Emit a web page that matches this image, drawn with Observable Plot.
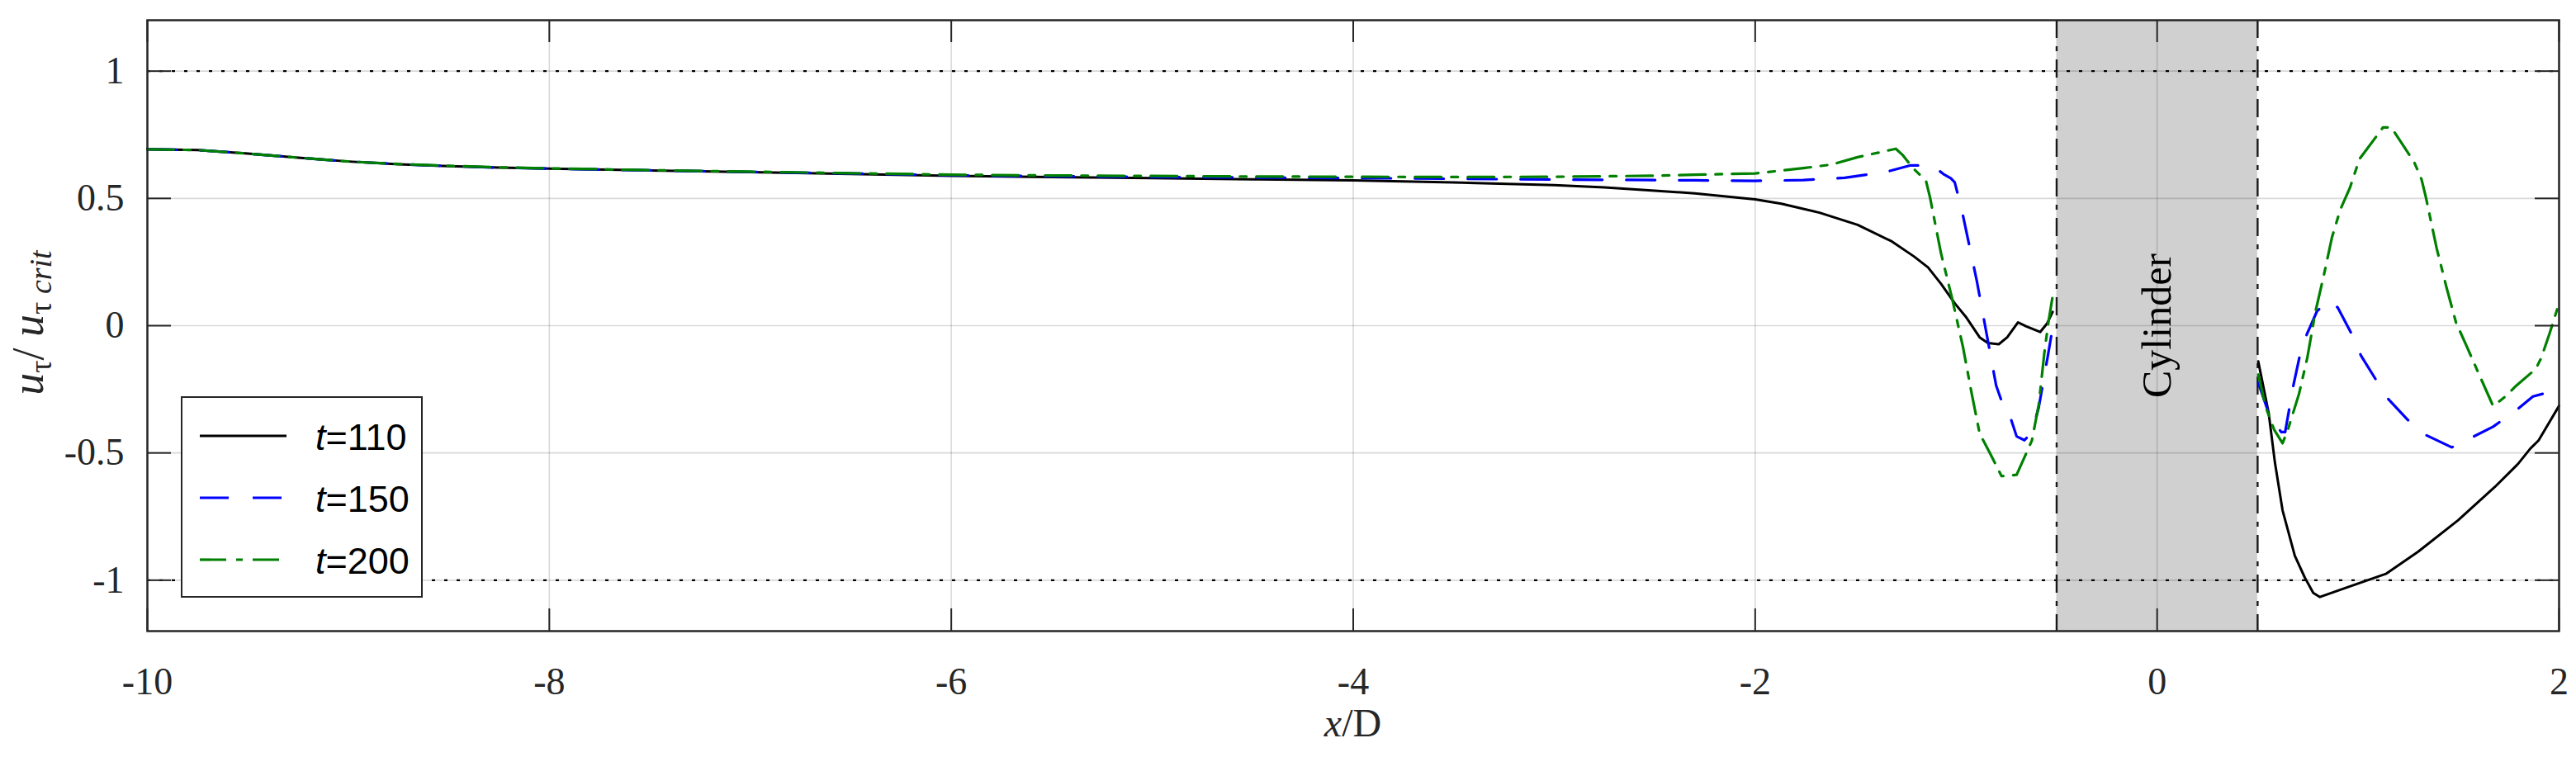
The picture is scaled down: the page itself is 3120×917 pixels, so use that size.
<!DOCTYPE html>
<html><head><meta charset="utf-8">
<script src="https://cdn.jsdelivr.net/npm/d3@7"></script>
<script src="https://cdn.jsdelivr.net/npm/@observablehq/plot@0.6"></script>
<style>body{margin:0;background:#fff}</style>
</head><body><div id="chart"></div>
<script>
// ---------- data ----------
const seriesNames = ["t=110", "t=150", "t=200"];
const xTicks = [-10, -8, -6, -4, -2, 0, 2];
const yTicks = [-1, -0.5, 0, 0.5, 1];
const xDomain = [-10, 2];
const yDomain = [-1.2, 1.2];
const critLevels = [-1, 1];
const cylinderEdges = [-0.5, 0.5];
const cylinderLabel = "Cylinder";

// t = 110 (black, solid)
const t110UpX = [-10, -9.75, -9.5, -9.25, -9, -8.75, -8.5, -8.25, -8, -7.5, -7, -6.5, -6, -5.5, -5, -4.5, -4, -3.5, -3, -2.75, -2.5, -2.3, -2.0, -1.87, -1.68, -1.49, -1.32, -1.21, -1.14, -1.075, -1.007, -0.952, -0.883, -0.842, -0.788, -0.746, -0.692, -0.651, -0.582, -0.548, -0.52];
const t110UpY = [0.693, 0.690, 0.676, 0.660, 0.645, 0.634, 0.627, 0.621, 0.617, 0.610, 0.603, 0.596, 0.589, 0.584, 0.580, 0.575, 0.571, 0.563, 0.552, 0.543, 0.530, 0.520, 0.496, 0.479, 0.444, 0.396, 0.331, 0.272, 0.229, 0.164, 0.088, 0.035, -0.046, -0.068, -0.073, -0.046, 0.013, -0.003, -0.025, 0.008, 0.054];
const t110DownX = [0.503, 0.555, 0.586, 0.624, 0.685, 0.735, 0.777, 0.810, 0.95, 1.141, 1.299, 1.498, 1.68, 1.796, 1.857, 1.898, 2.0];
const t110DownY = [-0.140, -0.343, -0.537, -0.725, -0.904, -0.990, -1.050, -1.066, -1.027, -0.974, -0.888, -0.764, -0.634, -0.543, -0.483, -0.451, -0.315];

// t = 150 (blue, dashed)
const t150UpX = [-10, -9.75, -9.5, -9.25, -9, -8.75, -8.5, -8.25, -8, -7.5, -7, -6.5, -6, -5.5, -5, -4.5, -4, -3.5, -3, -2.5, -2.3, -2.0, -1.76, -1.555, -1.349, -1.226, -1.116, -1.062, -1.027, -1.007, -0.972, -0.897, -0.849, -0.801, -0.753, -0.726, -0.699, -0.66, -0.623, -0.589, -0.541, -0.513];
const t150UpY = [0.693, 0.690, 0.676, 0.660, 0.645, 0.635, 0.627, 0.621, 0.617, 0.610, 0.604, 0.598, 0.591, 0.587, 0.584, 0.582, 0.580, 0.577, 0.574, 0.572, 0.571, 0.569, 0.572, 0.581, 0.604, 0.630, 0.628, 0.595, 0.579, 0.563, 0.455, 0.175, -0.030, -0.235, -0.343, -0.370, -0.435, -0.45, -0.418, -0.321, -0.106, 0.024];
const t150DownX = [0.503, 0.555, 0.617, 0.637, 0.678, 0.719, 0.747, 0.795, 0.85, 0.898, 0.966, 1.014, 1.090, 1.151, 1.247, 1.336, 1.466, 1.576, 1.672, 1.795, 1.870, 1.918];
const t150DownY = [-0.224, -0.343, -0.418, -0.418, -0.235, -0.084, -0.030, 0.056, 0.100, 0.072, -0.030, -0.117, -0.214, -0.289, -0.370, -0.429, -0.478, -0.435, -0.397, -0.327, -0.278, -0.268];

// t = 200 (green, dash-dot)
const t200UpX = [-10, -9.75, -9.5, -9.25, -9, -8.75, -8.5, -8.25, -8, -7.5, -7, -6.5, -6, -5.5, -5, -4.5, -4, -3.5, -3, -2.5, -2.3, -2.0, -1.76, -1.62, -1.49, -1.30, -1.267, -1.212, -1.15, -1.13, -1.075, -1.021, -0.966, -0.925, -0.883, -0.829, -0.774, -0.699, -0.623, -0.589, -0.561, -0.541, -0.52];
const t200UpY = [0.693, 0.690, 0.676, 0.660, 0.645, 0.635, 0.628, 0.622, 0.618, 0.611, 0.605, 0.599, 0.593, 0.590, 0.588, 0.586, 0.585, 0.584, 0.585, 0.589, 0.593, 0.598, 0.619, 0.633, 0.662, 0.695, 0.671, 0.617, 0.569, 0.504, 0.283, 0.110, -0.084, -0.257, -0.424, -0.505, -0.591, -0.586, -0.451, -0.311, -0.106, 0.013, 0.115];
const t200DownX = [0.503, 0.541, 0.582, 0.624, 0.651, 0.706, 0.747, 0.788, 0.829, 0.870, 0.911, 0.959, 1.007, 1.048, 1.124, 1.165, 1.233, 1.281, 1.316, 1.336, 1.391, 1.439, 1.487, 1.542, 1.596, 1.672, 1.733, 1.788, 1.884, 1.911, 1.953, 2.0];
const t200DownY = [-0.192, -0.321, -0.408, -0.462, -0.408, -0.268, -0.127, 0.056, 0.196, 0.347, 0.455, 0.541, 0.655, 0.698, 0.779, 0.779, 0.698, 0.639, 0.574, 0.509, 0.304, 0.153, 0.013, -0.084, -0.181, -0.316, -0.278, -0.235, -0.170, -0.127, -0.030, 0.088];

// ---------- build tables ----------
function rows(name, seg, xs, ys) {
  return xs.map((x, i) => ({series: name, seg: name + seg, x, y: ys[i]}));
}
const d110 = rows(seriesNames[0], "up", t110UpX, t110UpY).concat(rows(seriesNames[0], "down", t110DownX, t110DownY));
const d150 = rows(seriesNames[1], "up", t150UpX, t150UpY).concat(rows(seriesNames[1], "down", t150DownX, t150DownY));
const d200 = rows(seriesNames[2], "up", t200UpX, t200UpY).concat(rows(seriesNames[2], "down", t200DownX, t200DownY));

const styles = [
  {stroke: "#000000", strokeWidth: 3, dash: null},
  {stroke: "#0000ff", strokeWidth: 3.2, dash: "35,29"},
  {stroke: "#008000", strokeWidth: 3.2, dash: "32,12,8,12"}
];

const W = 3120, H = 917, mL = 178, mR = 21, mT = 24, mB = 153;
const plotW = W - mL - mR, plotH = H - mT - mB;
const serif = '"Liberation Serif", "Times New Roman", serif';
const axisColor = "#262626";

const plot = Plot.plot({
  width: W, height: H,
  marginLeft: mL, marginRight: mR, marginTop: mT, marginBottom: mB,
  style: {fontFamily: serif, fontSize: "46px", color: axisColor, background: "white", overflow: "visible"},
  x: {domain: xDomain, ticks: xTicks, tickFormat: d => String(d), tickSize: 0, tickPadding: 44, label: null},
  y: {domain: yDomain, ticks: yTicks, tickFormat: d => String(d), tickSize: 0, tickPadding: 28, label: null},
  marks: [
    Plot.rect([cylinderEdges], {x1: d => d[0], x2: d => d[1], y1: () => yDomain[0], y2: () => yDomain[1], fill: "#d0d0d0"}),
    Plot.ruleX(xTicks, {x: d => d, stroke: "#000", strokeOpacity: 0.15, strokeWidth: 1.6}),
    Plot.ruleY(yTicks, {y: d => d, stroke: "#000", strokeOpacity: 0.15, strokeWidth: 1.6}),
    Plot.ruleY(critLevels, {y: d => d, stroke: "#000", strokeWidth: 2.4, strokeDasharray: "4,11"}),
    Plot.ruleX(cylinderEdges, {x: d => d, stroke: "#1a1a1a", strokeWidth: 2.4, strokeDasharray: "22,10,6,10"}),
    Plot.text([cylinderLabel], {x: () => d3.mean(cylinderEdges), y: () => d3.mean(yDomain), text: d => d, rotate: -90, fontSize: 50, fill: "#000", fontFamily: serif}),
    Plot.line(d110, {x: "x", y: "y", z: "seg", stroke: styles[0].stroke, strokeWidth: styles[0].strokeWidth}),
    Plot.line(d150, {x: "x", y: "y", z: "seg", stroke: styles[1].stroke, strokeWidth: styles[1].strokeWidth, strokeDasharray: styles[1].dash}),
    Plot.line(d200, {x: "x", y: "y", z: "seg", stroke: styles[2].stroke, strokeWidth: styles[2].strokeWidth, strokeDasharray: styles[2].dash}),
    // inward ticks
    Plot.tickY(yTicks, {y: d => d, stroke: axisColor, strokeWidth: 2, insetRight: plotW - 29}),
    Plot.tickY(yTicks, {y: d => d, stroke: axisColor, strokeWidth: 2, insetLeft: plotW - 29}),
    Plot.tickX(xTicks, {x: d => d, stroke: axisColor, strokeWidth: 2, insetBottom: plotH - 27}),
    Plot.tickX(xTicks, {x: d => d, stroke: axisColor, strokeWidth: 2, insetTop: plotH - 27}),
    Plot.frame({stroke: axisColor, strokeWidth: 2.5})
  ]
});

document.getElementById("chart").appendChild(plot);
const svg = d3.select(plot);

// y-axis label
const yl = svg.append("text")
  .attr("transform", "translate(52,391) rotate(-90)")
  .attr("text-anchor", "middle")
  .attr("font-family", serif)
  .attr("font-size", 54)
  .attr("fill", axisColor);
yl.append("tspan").attr("font-style", "italic").text("u");
yl.append("tspan").attr("font-size", 38).attr("dy", 10).text("τ");
yl.append("tspan").attr("dy", -10).text("/ ");
yl.append("tspan").attr("font-style", "italic").text("u");
yl.append("tspan").attr("font-size", 38).attr("dy", 10).text("τ ");
yl.append("tspan").attr("font-size", 38).attr("font-style", "italic").text("crit");

// x-axis label
const xl = svg.append("text")
  .attr("x", mL + plotW / 2)
  .attr("y", 892)
  .attr("text-anchor", "middle")
  .attr("font-family", serif)
  .attr("font-size", 48)
  .attr("fill", axisColor);
xl.append("tspan").attr("font-style", "italic").text("x");
xl.append("tspan").text("/D");

// legend
const lg = svg.append("g");
lg.append("rect").attr("x", 220).attr("y", 481).attr("width", 291).attr("height", 242)
  .attr("fill", "white").attr("stroke", axisColor).attr("stroke-width", 2);
const legendY = [528, 603, 678];
seriesNames.forEach((name, i) => {
  const st = styles[i];
  lg.append("line").attr("x1", 242).attr("x2", 347).attr("y1", legendY[i]).attr("y2", legendY[i])
    .attr("stroke", st.stroke).attr("stroke-width", st.strokeWidth)
    .attr("stroke-dasharray", st.dash);
  const t = lg.append("text").attr("x", 382).attr("y", legendY[i] + 17)
    .attr("text-anchor", "start")
    .attr("font-family", '"Liberation Sans", Arial, sans-serif').attr("font-size", 45).attr("fill", "#000");
  const parts = name.split("=");
  t.append("tspan").attr("font-style", "italic").text(parts[0]);
  t.append("tspan").text("=" + parts[1]);
});
</script>
</body></html>
